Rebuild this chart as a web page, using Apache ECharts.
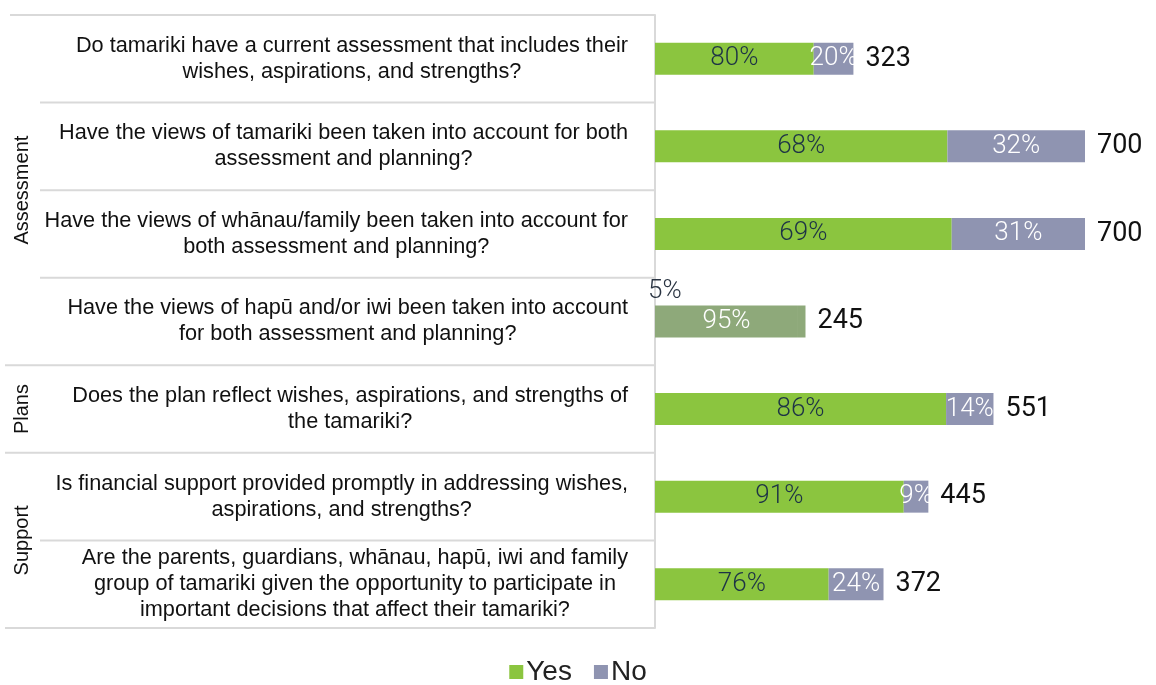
<!DOCTYPE html>
<html><head><meta charset="utf-8">
<script src="https://cdn.jsdelivr.net/npm/echarts@6/dist/echarts.min.js"></script>
<style>html,body{margin:0;padding:0;background:#fff}#c{width:1156px;height:685px}</style>
</head><body><div id="c"></div>
<script>
const questions = [
  "Do tamariki have a current assessment that includes their\nwishes, aspirations, and strengths?",
  "Have the views of tamariki been taken into account for both\nassessment and planning?",
  "Have the views of whānau/family been taken into account for\nboth assessment and planning?",
  "Have the views of hapū and/or iwi been taken into account\nfor both assessment and planning?",
  "Does the plan reflect wishes, aspirations, and strengths of\nthe tamariki?",
  "Is financial support provided promptly in addressing wishes,\naspirations, and strengths?",
  "Are the parents, guardians, whānau, hapū, iwi and family\ngroup of tamariki given the opportunity to participate in\nimportant decisions that affect their tamariki?"
];
const groups = ["Assessment","Assessment","Assessment","Assessment","Plans","Support","Support"];
const yesPct = [80, 68, 69, 95, 86, 91, 76];
const noPct  = [20, 32, 31, 5, 14, 9, 24];
const totals = [323, 700, 700, 245, 551, 445, 372];

const GREEN = '#8bc53f', GREY = '#8f94b1', MUTED = '#8ea97a';
const chart = echarts.init(document.getElementById('c'));

const yesData = yesPct.map((p, i) => {
  const d = { value: totals[i] * p / 100, pct: p };
  if (i === 3) { d.itemStyle = { color: MUTED }; d.label = { color: '#ffffff' }; }
  return d;
});
const noData = noPct.map((p, i) => {
  const d = { value: totals[i] * p / 100, pct: p };
  if (i === 3) {
    d.itemStyle = { color: MUTED };
    d.label = { position: [-150, -27], color: '#2a3442' };
  }
  return d;
});

const pctLabel = (color) => ({
  show: true, position: 'inside', color: color, fontSize: 26, fontWeight: 300,
  fontFamily: 'Roboto', formatter: p => p.data.pct + '%'
});

chart.setOption({
  animation: false,
  grid: { left: 655, top: 15, bottom: 57, right: 71 },
  xAxis: { type: 'value', min: 0, max: 700, show: false },
  yAxis: {
    type: 'category', inverse: true, data: questions,
    axisLine: { show: true, lineStyle: { color: '#d9d9d9', width: 2 } },
    axisTick: { show: false },
    axisLabel: {
      margin: 27, align: 'right', color: '#111', fontSize: 21.7,
      fontFamily: 'Liberation Sans', lineHeight: 26,
      formatter: v => v.split('\n').map(l => '{c|' + l + '}').join('\n'),
      rich: { c: { align: 'center', fontSize: 21.7, fontFamily: 'Liberation Sans', color: '#111', lineHeight: 26 } }
    }
  },
  legend: {
    data: ['Yes', 'No'], top: 653, left: 'center', icon: 'rect',
    itemWidth: 14, itemHeight: 14, itemGap: 22,
    textStyle: { fontSize: 28, color: '#222', fontFamily: 'Liberation Sans', padding: [0,0,0,-2] }
  },
  series: [
    { name: 'Total', type: 'bar', data: totals, barWidth: 32, barGap: '-100%', z: 1, silent: true,
      itemStyle: { color: 'rgba(0,0,0,0)' },
      label: { show: true, position: 'right', distance: 12, color: '#111', fontSize: 27, fontFamily: 'Roboto' } },
    { name: 'Yes', type: 'bar', stack: 's', data: yesData, barWidth: 32, barGap: '-100%', z: 2,
      itemStyle: { color: GREEN }, label: pctLabel('#1d3346') },
    { name: 'No', type: 'bar', stack: 's', data: noData, barWidth: 32, barGap: '-100%', z: 2,
      itemStyle: { color: GREY }, label: pctLabel('#ffffff') }
  ]
});

// table rules and group labels, positioned from the category axis
const c0 = chart.convertToPixel({ yAxisIndex: 0 }, 0);
const c1 = chart.convertToPixel({ yAxisIndex: 0 }, 1);
const band = c1 - c0;
const axisX = chart.convertToPixel({ xAxisIndex: 0 }, 0);
const graphics = [];
const lineStyle = { stroke: '#d9d9d9', lineWidth: 2 };
for (let i = 0; i <= questions.length; i++) {
  const y = c0 - band / 2 + band * i;
  let x0;
  if (i === 0) x0 = 10;
  else if (i === questions.length || groups[i] !== groups[i - 1]) x0 = 5;
  else x0 = 40;
  graphics.push({ type: 'line', shape: { x1: x0, y1: y, x2: axisX, y2: y }, style: lineStyle, z: 0 });
}
let start = 0;
for (let i = 1; i <= groups.length; i++) {
  if (i === groups.length || groups[i] !== groups[start]) {
    const yTop = c0 - band / 2 + band * start;
    const yBot = c0 - band / 2 + band * i;
    graphics.push({
      type: 'text', x: 22, y: (yTop + yBot) / 2, rotation: Math.PI / 2,
      style: { text: groups[start], fontSize: 20, fontFamily: 'Liberation Sans', fill: '#111', align: 'center', verticalAlign: 'middle' }
    });
    start = i;
  }
}
chart.setOption({ graphic: graphics });
</script></body></html>
